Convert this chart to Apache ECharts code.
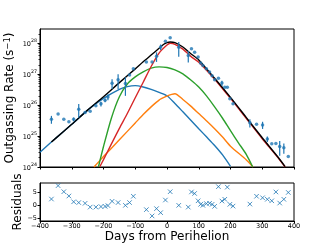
<!DOCTYPE html>
<html><head><meta charset="utf-8">
<script src="https://cdn.jsdelivr.net/npm/echarts@6/dist/echarts.min.js"></script>
<style>html,body{margin:0;padding:0;background:#fff}#c{width:327px;height:245px}</style>
</head><body><div id="c"></div>
<script>
// Observations (days from perihelion, outgassing rate, 1-sigma error)
const obsDays = [-364,-343,-325,-309,-294,-278,-258,-242,-224,-208,-195,-186,-173,-154,-131,-118,-106,-65,-47,-33,-20,-5,10,37,67,77,87,98,106,113,124,134,142,150,162,173,182,190,198,208,261,282,301,316,330,343,355,368,382];
const obsRate = [3.5e25,5.2e25,3.5e25,2.9e25,3.5e25,7.4e25,5.8e25,6.3e25,9.5e25,1.1e26,1.45e26,1.85e26,5.1e26,6.6e26,5.0e26,9.5e26,1.5e27,2.5e27,2.5e27,3.8e27,7.6e27,1.17e28,1.5e28,7.4e27,4.0e27,6.7e27,5.1e27,3.6e27,2.3e27,1.9e27,1.5e27,1.17e27,8.9e26,6.6e26,7.4e26,5.2e26,3.8e26,3.8e26,1.6e26,1.1e26,2.7e25,2.4e25,2.3e25,8.0e24,5.6e24,5.8e24,4.6e24,4.2e24,2.2e24];
const obsErr = [1.0e25,0,0,0,0.5e25,3.5e25,0,0,0,2e25,2e25,4e25,1.8e26,3.3e26,3e26,0,0,0,0,1.3e27,1.5e27,0,0,3.7e27,1.6e27,0,0,0,0,0,0,0,0,0,0,1e26,0,0,0,0,8e24,0,6e24,1.6e24,0,0,2.3e24,1.5e24,0];
const residuals = [2.5,7.8,5.4,3.7,1.4,1.1,0.8,-0.7,-0.7,-0.5,-0.4,-0.1,1.6,1.1,0,1.1,3.6,-1.7,-4.2,-1.3,-2.9,2.1,5.4,0,-0.7,5.3,4.7,1.8,0.4,0,0.7,0.8,0.4,-0.4,7.4,1.7,2.4,7.2,0.4,-0.3,0.5,3.6,3.0,2.4,1.8,5.3,0.9,2.4,5.1];

// Model components
const blueDays = [-400,-350,-300,-250,-200,-150,-125,-100,-75,-50,-25,0,25,50,75,100,125,150,175,200];
const blueRate = [3.0e24,8.6e24,2.4e25,6.9e25,1.65e26,3.24e26,3.96e26,4.27e26,3.86e26,3.24e26,2.59e26,2.01e26,1.13e26,6.07e25,3.24e25,1.73e25,9.3e24,4.96e24,2.46e24,1.05e24];
const greenDays = [-216,-200,-175,-150,-125,-100,-75,-50,-25,0,25,50,75,100,125,150,175,200,225,250,270];
const greenRate = [1.0e24,4.6e24,3.86e25,1.87e26,4.84e26,8.2e26,1.19e27,1.57e27,1.73e27,1.65e27,1.38e27,1.03e27,6.5e26,3.86e26,1.96e26,8.8e25,3.77e25,1.49e25,6.07e24,2.52e24,1.0e24];
const orangeDays = [-230,-200,-150,-100,-75,-50,-25,0,15,25,50,75,100,125,150,175,200,250,271];
const orangeRate = [1.0e24,2.17e24,7.6e24,2.65e25,4.96e25,8.8e25,1.46e26,1.96e26,2.23e26,2.34e26,1.53e26,9.3e25,5.35e25,3.08e25,1.73e25,9.3e24,4.7e24,1.69e24,1.0e24];
const redDays = [-212,-200,-175,-150,-125,-100,-75,-50,-25,0,10,25,50,75,100,150,200,250,300,350,372];
const redRate = [1.0e24,1.73e24,5.6e24,1.78e25,5.35e25,1.73e26,5.5e26,1.78e27,4.84e27,8.8e27,1.0e28,9.3e27,6.5e27,3.77e27,2.45e27,6.9e26,1.65e26,3.67e25,8.2e24,1.97e24,1.0e24];
const totalDays = [-364,-350,-300,-250,-200,-150,-100,-75,-50,-25,-10,0,10,25,50,75,100,150,200,250,300,350,372];
const totalRate = [6.4e24,8.6e24,2.4e25,6.9e25,1.87e26,5.35e26,1.49e27,2.52e27,4.17e27,6.9e27,9.3e27,1.05e28,1.1e28,1.05e28,7.6e27,4.6e27,2.9e27,7.4e26,1.78e26,3.96e25,8.8e24,2.07e24,1.03e24];

// Ticks
const xTicks = [-400,-300,-200,-100,0,100,200,300,400];
const yExponents = [24,25,26,27,28];
const residTicks = [-5,0,5];

const F = 'DejaVu Sans';
const yMin = 1e24, yMax = 2.9e28;
const majorY = yExponents.map(e => Math.pow(10, e));
const minorY = [];
yExponents.forEach(e => { for (let m = 2; m <= 9; m++) { const v = m * Math.pow(10, e); if (v <= yMax) minorY.push(v); } });
const pair = (xs, ys) => xs.map((x, i) => [x, ys[i]]);
const minus = v => (v < 0 ? '\u2212' + Math.abs(v) : String(v));
const axisCol = '#000';

const chart = echarts.init(document.getElementById('c'), null, {renderer: 'canvas'});
const lineS = (name, days, rate, color, z) => ({
  name, type: 'line', xAxisIndex: 0, yAxisIndex: 0, data: pair(days, rate),
  showSymbol: false, smooth: 0.25, clip: true, z,
  lineStyle: {color, width: 1.4}, itemStyle: {color}
});

chart.setOption({
  animation: false,
  textStyle: {fontFamily: F},
  grid: [
    {left: 40, top: 29, width: 254, height: 138, show: true, borderColor: axisCol, borderWidth: 1, backgroundColor: 'transparent'},
    {left: 40, top: 183, width: 254, height: 38, show: true, borderColor: axisCol, borderWidth: 1, backgroundColor: 'transparent'}
  ],
  xAxis: [
    {type: 'value', gridIndex: 0, min: -400, max: 400, interval: 100,
     axisLine: {onZero: false, lineStyle: {color: axisCol}}, axisTick: {length: 2.5, lineStyle: {color: axisCol}},
     axisLabel: {show: false}, splitLine: {show: false}},
    {type: 'value', gridIndex: 1, min: -400, max: 400, interval: 100,
     axisLine: {onZero: false, lineStyle: {color: axisCol}}, axisTick: {length: 2.5, lineStyle: {color: axisCol}},
     axisLabel: {fontSize: 6.5, color: '#000', fontFamily: F, margin: 2, formatter: v => minus(v)},
     splitLine: {show: false}}
  ],
  yAxis: [
    {type: 'log', logBase: 10, gridIndex: 0, min: yMin, max: yMax,
     axisLine: {show: true, onZero: false, lineStyle: {color: axisCol}},
     axisTick: {show: true, length: 2.5, customValues: majorY, lineStyle: {color: axisCol}},
     axisLabel: {customValues: majorY, margin: 3, color: '#000',
       formatter: v => '{b|10}{s|' + Math.round(Math.log10(v)) + '}',
       rich: {b: {fontSize: 6.5, fontFamily: F, color: '#000', verticalAlign: 'bottom', lineHeight: 10},
              s: {fontSize: 4.8, fontFamily: F, color: '#000', verticalAlign: 'top', lineHeight: 10}}},
     splitLine: {show: false}},
    {type: 'log', logBase: 10, gridIndex: 0, min: yMin, max: yMax, position: 'left',
     axisLine: {show: false, onZero: false}, axisLabel: {show: false}, splitLine: {show: false},
     axisTick: {show: true, length: 1.5, customValues: minorY, lineStyle: {color: axisCol, width: 0.8}}},
    {type: 'value', gridIndex: 1, min: -6.2, max: 8.85,
     axisLine: {show: true, onZero: false, lineStyle: {color: axisCol}},
     axisTick: {show: true, length: 2.5, customValues: residTicks, lineStyle: {color: axisCol}},
     axisLabel: {customValues: residTicks, margin: 3, fontSize: 6.5, color: '#000', fontFamily: F, formatter: v => minus(v)},
     splitLine: {show: false}}
  ],
  graphic: [
    {type: 'text', x: 9.5, y: 98, rotation: Math.PI / 2,
     style: {text: 'Outgassing Rate (s{s|\u22121})', fontSize: 12, fontFamily: F, fill: '#000', align: 'center', verticalAlign: 'middle',
       rich: {s: {fontSize: 8.5, fontFamily: F, fill: '#000', verticalAlign: 'top'}}}},
    {type: 'text', x: 17.5, y: 202, rotation: Math.PI / 2,
     style: {text: 'Residuals', fontSize: 12, fontFamily: F, fill: '#000', align: 'center', verticalAlign: 'middle'}},
    {type: 'text', x: 167, y: 237,
     style: {text: 'Days from Perihelion', fontSize: 12, fontFamily: F, fill: '#000', align: 'center', verticalAlign: 'middle'}}
  ],
  series: [
    lineS('comp1', blueDays, blueRate, '#1f77b4', 2),
    lineS('comp2', orangeDays, orangeRate, '#ff7f0e', 2),
    lineS('comp3', greenDays, greenRate, '#2ca02c', 2),
    lineS('comp4', redDays, redRate, '#d62728', 3),
    lineS('total', totalDays, totalRate, '#000000', 4),
    {type: 'custom', xAxisIndex: 0, yAxisIndex: 0, z: 5,
     data: obsDays.map((d, i) => [d, obsRate[i] - obsErr[i], obsRate[i] + obsErr[i]]).filter((r, i) => obsErr[i] > 0),
     encode: {x: 0, y: [1, 2]},
     renderItem: (params, api) => {
       const a = api.coord([api.value(0), api.value(1)]);
       const b = api.coord([api.value(0), api.value(2)]);
       return {type: 'line', shape: {x1: a[0], y1: a[1], x2: b[0], y2: b[1]}, style: {stroke: '#1f77b4', lineWidth: 1.2}};
     }},
    {type: 'scatter', xAxisIndex: 0, yAxisIndex: 0, z: 6, data: pair(obsDays, obsRate),
     symbol: 'circle', symbolSize: 3.5, itemStyle: {color: '#1f77b4'}},
    {type: 'scatter', xAxisIndex: 1, yAxisIndex: 2, z: 6, data: pair(obsDays, residuals),
     symbol: 'path://M0,0L10,10M10,0L0,10', symbolSize: 4.5,
     itemStyle: {color: 'rgba(0,0,0,0)', borderColor: '#1f77b4', borderWidth: 1}}
  ]
});
</script></body></html>
